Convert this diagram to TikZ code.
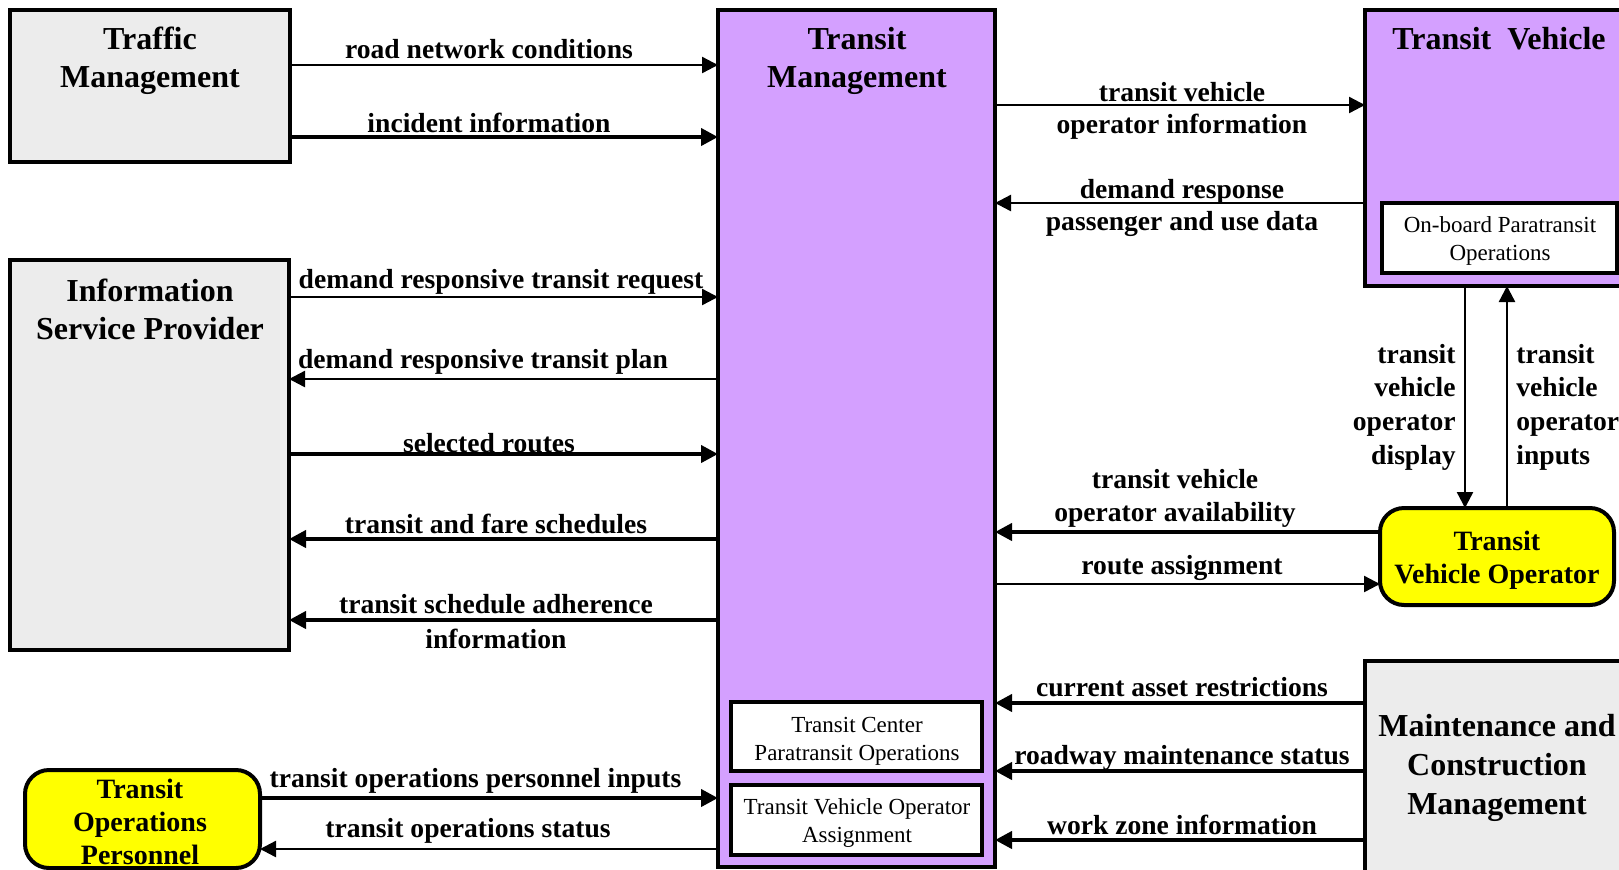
\documentclass[tikz,border=0pt]{standalone}
\usepackage{fontspec}
\setmainfont{Liberation Serif}
\usetikzlibrary{arrows.meta,fit}
\definecolor{tmpurple}{RGB}{212,160,255}
\definecolor{extgray}{RGB}{236,236,236}
\definecolor{termyellow}{RGB}{255,255,0}
\begin{document}
\begin{tikzpicture}[x=0.5pt,y=-0.5pt,
  box/.style={draw, line width=2pt, inner sep=0pt, outer sep=0pt},
  ext/.style={box, fill=extgray},
  sub/.style={box, fill=tmpurple},
  func/.style={draw, line width=1.6pt, fill=white, inner sep=0pt, outer sep=0pt},
  term/.style={draw, line width=2pt, fill=termyellow, rounded corners=12pt, inner sep=0pt, outer sep=0pt},
  title/.style={font=\fontsize{16}{19}\selectfont\bfseries, align=center, inner sep=0pt},
  termtitle/.style={font=\fontsize{14}{16.5}\selectfont\bfseries, align=center, inner sep=0pt},
  small/.style={font=\fontsize{11.5}{14}\selectfont, align=center, inner sep=0pt},
  lbl/.style={font=\fontsize{13.8}{16.3}\selectfont\bfseries, align=center, inner sep=0pt},
  vlbl/.style={font=\fontsize{13.8}{16.8}\selectfont\bfseries, inner sep=0pt},
  flow/.style={line width=1.2pt, -{Triangle[length=8pt,width=8pt]}},
  bigflow/.style={line width=2pt, -{Triangle[length=8.5pt,width=8.5pt]}},
]
\clip (0,0) rectangle (1619,869);

% terminators and subsystems
\node[ext, fit={(10,10) (290,162)}] (tfm) {};
\node[title] (tfmt) at (150,61) {Traffic\\Management};

\node[ext, fit={(10,260) (289,650)}] (isp) {};
\node[title] (ispt) at (150,309) {Information\\Service Provider};

\node[sub, fit={(718,10) (995,867)}] (tm) {};
\node[title] (tmt) at (857,61) {Transit\\Management};
\node[func, fit={(731,702) (982,771)}] (tcp) {};
\node[small] (tcpt) at (857,741) {Transit Center\\Paratransit Operations};
\node[func, fit={(731,785) (982,855)}] (tvoa) {};
\node[small] (tvoat) at (857,823) {Transit Vehicle Operator\\Assignment};

\node[sub, fit={(1365,10) (1650,286)}] (tv) {};
\node[title] (tvt) at (1499,39) {Transit\ \ Vehicle};
\node[func, fit={(1382,203) (1617,273)}] (obp) {};
\node[small] (obpt) at (1500,241) {On-board Paratransit\\Operations};

\node[term, fit={(1380,508) (1614,605)}] (tvo) {};
\node[termtitle] (tvot) at (1497,560) {Transit\\Vehicle Operator};

\node[ext, fit={(1365,661) (1650,880)}] (mcm) {};
\node[title, font=\fontsize{16}{19.5}\selectfont\bfseries] (mcmt) at (1497,768) {Maintenance and\\Construction\\Management};

\node[term, fit={(25,770) (260,868)}] (top) {};
\node[termtitle] (topt) at (140,822) {Transit\\Operations\\Personnel};

% flows on the left side
\draw[flow]    (tfm.east |- 0,65)  -- (tm.west |- 0,65);
\draw[bigflow] (tfm.east |- 0,137) -- (tm.west |- 0,137);
\draw[flow]    (isp.east |- 0,297) -- (tm.west |- 0,297);
\draw[flow]    (tm.west |- 0,379)  -- (isp.east |- 0,379);
\draw[bigflow] (isp.east |- 0,454) -- (tm.west |- 0,454);
\draw[bigflow] (tm.west |- 0,539)  -- (isp.east |- 0,539);
\draw[bigflow] (tm.west |- 0,620)  -- (isp.east |- 0,620);
\draw[bigflow] (top.east |- 0,798) -- (tm.west |- 0,798);
\draw[flow]    (tm.west |- 0,849)  -- (top.east |- 0,849);

\node[lbl] (l1) at (489,49.5) {road network conditions};
\node[lbl] (l2) at (489,123) {incident information};
\node[lbl] (l3) at (501,282) {demand responsive transit request};
\node[lbl] (l4) at (483,362) {demand responsive transit plan};
\node[lbl] (l5) at (489,443) {selected routes};
\node[lbl] (l6) at (496,524) {transit and fare schedules};
\node[lbl, font=\fontsize{13.8}{17.5}\selectfont\bfseries] (l7) at (496,622) {transit schedule adherence\\information};
\node[lbl] (l8) at (475.5,781) {transit operations personnel inputs};
\node[lbl] (l9) at (468,831) {transit operations status};

% flows on the right side
\draw[flow]    (tm.east |- 0,105)  -- (tv.west |- 0,105);
\draw[flow]    (tv.west |- 0,203)  -- (tm.east |- 0,203);
\draw[bigflow] (tvo.west |- 0,532) -- (tm.east |- 0,532);
\draw[flow]    (tm.east |- 0,584)  -- (tvo.west |- 0,584);
\draw[bigflow] (mcm.west |- 0,703) -- (tm.east |- 0,703);
\draw[bigflow] (mcm.west |- 0,771) -- (tm.east |- 0,771);
\draw[bigflow] (mcm.west |- 0,840) -- (tm.east |- 0,840);
\draw[flow]    (tv.south -| 1465,0) -- (tvo.north -| 1465,0);
\draw[flow]    (tvo.north -| 1507,0) -- (tv.south -| 1507,0);

\node[lbl] (r1) at (1182,111) {transit vehicle\\operator information};
\node[lbl] (r2) at (1182,208) {demand response\\passenger and use data};
\node[lbl] (r3) at (1175,498.5) {transit vehicle\\operator availability};
\node[lbl] (r4) at (1182,568) {route assignment};
\node[lbl] (r5) at (1182,687) {current asset restrictions};
\node[lbl] (r6) at (1182,758) {roadway maintenance status};
\node[lbl] (r7) at (1182,825) {work zone information};
\node[vlbl, align=right, anchor=east] (v1) at (1456,407) {transit\\vehicle\\operator\\display};
\node[vlbl, align=left, anchor=west] (v2) at (1516,407) {transit\\vehicle\\operator\\inputs};
\end{tikzpicture}
\end{document}
